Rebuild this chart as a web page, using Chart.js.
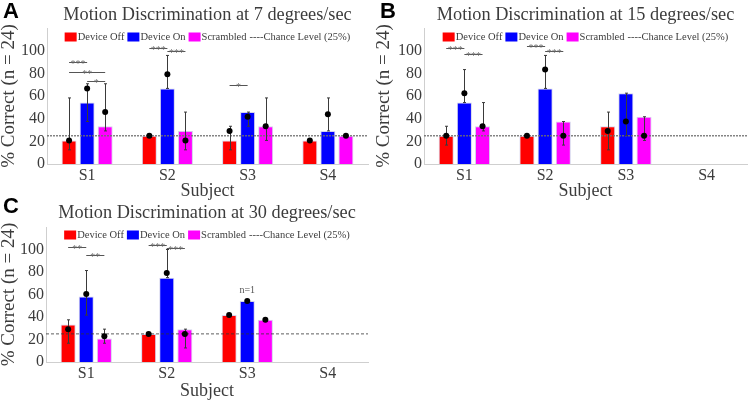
<!DOCTYPE html>
<html>
<head>
<meta charset="utf-8">
<script src="https://cdn.jsdelivr.net/npm/chart.js@4.4.1/dist/chart.umd.min.js"></script>
<style>
  html, body { margin: 0; padding: 0; background: #fff; }
  #wrap { position: relative; width: 749px; height: 400px; overflow: hidden; }
  canvas { position: absolute; }
</style>
</head>
<body>
<div id="wrap">
  <canvas id="chartA" width="375" height="200" style="left:0;top:0"></canvas>
  <canvas id="chartB" width="374" height="200" style="left:375px;top:0"></canvas>
  <canvas id="chartC" width="375" height="205" style="left:0;top:195px"></canvas>
</div>
<script>
const subjects = ['S1', 'S2', 'S3', 'S4'];
const seriesNames = ['Device Off', 'Device On', 'Scrambled'];
const seriesColors = ['#ff0000', '#0000ff', '#ff00ff'];
const yTicks = [0, 20, 40, 60, 80, 100];
const chanceLevel = 25;

// 7 degrees/sec
const offA = [20.8, 25.0, 20.8, 20.8];
const onA = [54.2, 66.7, 45.8, 29.2];
const scrA = [33.3, 29.2, 33.3, 25.0];
const offDotA = [20.8, 25.0, 29.2, 20.8];
const onDotA = [66.7, 79.2, 41.7, 43.8];
const scrDotA = [45.8, 20.8, 33.3, 25.0];
const offErrA = [[12.5, 58.3], null, [12.5, 33.3], null];
const onErrA = [[37.5, 70.8], [66.7, 95.8], [33.3, 45.8], [29.2, 58.3]];
const scrErrA = [[29.2, 70.8], [12.5, 45.8], [20.8, 58.3], null];
// [subject, from series, to series, height, stars]
const sigA = [[0, 0, 1, 90, '***'], [0, 0, 2, 81, '**'], [0, 1, 2, 73, '*'],
              [1, 0, 1, 102, '***'], [1, 1, 2, 100, '***'], [2, 0, 1, 70, '*']];

// 15 degrees/sec
const offB = [25.0, 25.0, 33.3, null];
const onB = [54.2, 66.7, 62.5, null];
const scrB = [33.3, 37.5, 41.7, null];
const offDotB = [25.0, 25.0, 29.2, null];
const onDotB = [62.5, 83.3, 37.5, null];
const scrDotB = [33.3, 25.0, 25.0, null];
const offErrB = [[16.7, 33.3], null, [12.5, 45.8], null];
const onErrB = [[54.2, 83.3], [66.7, 95.8], [25.0, 62.5], null];
const scrErrB = [[29.2, 54.2], [16.7, 37.5], [20.8, 41.7], null];
const sigB = [[0, 0, 1, 102, '***'], [0, 1, 2, 97.5, '***'],
              [1, 0, 1, 104, '***'], [1, 1, 2, 99.5, '***']];

// 30 degrees/sec
const offC = [33.3, 25.0, 41.7, null];
const onC = [58.3, 75.0, 54.2, null];
const scrC = [20.8, 29.2, 37.5, null];
const offDotC = [29.2, 25.0, 41.7, null];
const onDotC = [60.4, 79.2, 54.2, null];
const scrDotC = [22.9, 25.0, 37.5, null];
const offErrC = [[16.7, 37.5], null, null, null];
const onErrC = [[41.7, 81.3], [75.0, 100], null, null];
const scrErrC = [[16.7, 29.2], [12.5, 29.2], null, null];
const sigC = [[0, 0, 1, 102, '**'], [0, 1, 2, 95, '**'],
              [1, 0, 1, 104, '***'], [1, 1, 2, 101.5, '***']];
const notesC = [[2, 1, 'n=1']];

const serif = '"Liberation Serif", "DejaVu Serif", serif';
const textColor = '#3c3c3c';
const axisColor = '#cfcfcf';

function makeExtras(p) {
  return {
    id: 'extras' + p.letter,
    afterDatasetsDraw(chart) {
      const { ctx, chartArea: area, scales: { y } } = chart;
      const xAt = (ds, i) => chart.getDatasetMeta(ds).data[i].x;
      ctx.save();

      // chance level line
      const yc = y.getPixelForValue(chanceLevel);
      ctx.strokeStyle = p.chance.color;
      ctx.lineWidth = p.chance.width;
      ctx.setLineDash(p.chance.dash);
      ctx.beginPath();
      ctx.moveTo(area.left, yc);
      ctx.lineTo(area.right, yc);
      ctx.stroke();
      ctx.setLineDash([]);

      // error bars
      ctx.strokeStyle = '#3a3a3a';
      ctx.lineWidth = 1;
      p.errs.forEach((list, ds) => list.forEach((e, i) => {
        if (!e) return;
        const x = Math.round(xAt(ds, i)) + 0.5;
        const y0 = y.getPixelForValue(e[0]);
        const y1 = y.getPixelForValue(e[1]);
        ctx.beginPath();
        ctx.moveTo(x, y0); ctx.lineTo(x, y1);
        ctx.moveTo(x - 1.5, y0); ctx.lineTo(x + 1.5, y0);
        ctx.moveTo(x - 1.5, y1); ctx.lineTo(x + 1.5, y1);
        ctx.stroke();
      }));

      // individual points
      ctx.fillStyle = '#000';
      p.dots.forEach((list, ds) => list.forEach((v, i) => {
        if (v == null) return;
        ctx.beginPath();
        ctx.arc(xAt(ds, i), y.getPixelForValue(v), 3, 0, Math.PI * 2);
        ctx.fill();
      }));

      // significance brackets
      ctx.strokeStyle = '#555';
      ctx.fillStyle = '#666';
      ctx.lineWidth = 1;
      ctx.font = '10px ' + serif;
      ctx.textAlign = 'center';
      ctx.textBaseline = 'alphabetic';
      p.sig.forEach(([i, a, b, h, stars]) => {
        const xa = xAt(a, i), xb = xAt(b, i);
        const yy = Math.round(y.getPixelForValue(h)) + 0.5;
        ctx.beginPath();
        ctx.moveTo(xa, yy); ctx.lineTo(xb, yy);
        ctx.stroke();
        ctx.fillText(stars, (xa + xb) / 2, yy + 4);
      });

      (p.notes || []).forEach(([i, ds, txt]) => {
        ctx.font = '10px ' + serif;
        ctx.fillStyle = '#555';
        ctx.textBaseline = 'middle';
        ctx.fillText(txt, xAt(ds, i), y.getPixelForValue(63.5));
      });
      ctx.restore();
    },
    afterDraw(chart) {
      const { ctx, chartArea: area } = chart;
      const cx = (area.left + area.right) / 2;
      ctx.save();

      // title
      ctx.fillStyle = textColor;
      ctx.font = '18.3px ' + serif;
      ctx.textAlign = 'center';
      ctx.textBaseline = 'middle';
      ctx.fillText(p.title, cx, p.titleY);

      // panel letter
      ctx.fillStyle = '#000';
      ctx.font = 'bold 22px "Liberation Sans", Arial, sans-serif';
      ctx.textAlign = 'left';
      ctx.textBaseline = 'alphabetic';
      ctx.fillText(p.letter, p.letterX, p.letterY);

      // legend
      ctx.font = '10.5px ' + serif;
      ctx.textBaseline = 'middle';
      const chanceText = '----Chance Level (25%)';
      let w = ctx.measureText(chanceText).width;
      seriesNames.forEach(n => { w += 12 + 1 + ctx.measureText(n).width + 3; });
      let x = cx - w / 2;
      seriesNames.forEach((n, i) => {
        ctx.fillStyle = seriesColors[i];
        ctx.fillRect(x, p.legendY - 4.5, 12, 9);
        x += 13;
        ctx.fillStyle = textColor;
        ctx.fillText(n, x, p.legendY);
        x += ctx.measureText(n).width + 3;
      });
      ctx.fillText(chanceText, x, p.legendY);
      ctx.restore();
    }
  };
}

function buildPanel(p) {
  const ctx = document.getElementById(p.id).getContext('2d');
  const tickFont = { family: serif, size: 16 };
  return new Chart(ctx, {
    type: 'bar',
    data: {
      labels: subjects,
      datasets: seriesNames.map((name, i) => ({
        label: name,
        data: p.bars[i],
        backgroundColor: seriesColors[i],
        borderColor: '#d4d4ec',
        borderWidth: 1,
        categoryPercentage: 0.675,
        barPercentage: 0.83
      }))
    },
    options: {
      responsive: false,
      animation: false,
      layout: { padding: p.pad },
      plugins: { legend: { display: false }, tooltip: { enabled: false } },
      scales: {
        x: {
          grid: { display: false, drawTicks: false },
          border: { display: true, color: axisColor },
          ticks: { font: tickFont, color: textColor, padding: 2 },
          title: { display: true, text: 'Subject', font: { family: serif, size: 18, lineHeight: 1 }, color: textColor, padding: 0 },
          afterFit(s) { s.height = p.xHeight; }
        },
        y: {
          min: 0,
          max: 120,
          grid: { display: false, drawTicks: false },
          border: { display: true, color: axisColor },
          ticks: { font: tickFont, color: textColor, padding: 2 },
          afterBuildTicks(s) { s.ticks = yTicks.map(v => ({ value: v })); },
          title: { display: true, text: '% Correct (n = 24)', font: { family: serif, size: 19, lineHeight: 1 }, color: textColor, padding: 0 },
          afterFit(s) { s.width = p.yWidth; }
        }
      }
    },
    plugins: [makeExtras(p)]
  });
}

const dottedChance = { color: 'rgba(110,110,110,0.85)', width: 1.5, dash: [2, 1] };

buildPanel({
  id: 'chartA', letter: 'A', title: 'Motion Discrimination at 7 degrees/sec',
  bars: [offA, onA, scrA], dots: [offDotA, onDotA, scrDotA], errs: [offErrA, onErrA, scrErrA], sig: sigA,
  pad: { top: 28, right: 7, left: 0, bottom: 0 }, yWidth: 47, xHeight: 36,
  chance: dottedChance, titleY: 15, letterX: 3, letterY: 18, legendY: 37
});

buildPanel({
  id: 'chartB', letter: 'B', title: 'Motion Discrimination at 15 degrees/sec',
  bars: [offB, onB, scrB], dots: [offDotB, onDotB, scrDotB], errs: [offErrB, onErrB, scrErrB], sig: sigB,
  pad: { top: 28, right: 2, left: 0, bottom: 0 }, yWidth: 49, xHeight: 36,
  chance: dottedChance, titleY: 15, letterX: 5, letterY: 18, legendY: 37
});

buildPanel({
  id: 'chartC', letter: 'C', title: 'Motion Discrimination at 30 degrees/sec',
  bars: [offC, onC, scrC], dots: [offDotC, onDotC, scrDotC], errs: [offErrC, onErrC, scrErrC], sig: sigC,
  notes: notesC,
  pad: { top: 32, right: 7, left: 0, bottom: 0 }, yWidth: 46, xHeight: 38,
  chance: { color: '#333', width: 0.8, dash: [3, 2] }, titleY: 18, letterX: 3, letterY: 18, legendY: 40
});
</script>
</body>
</html>
